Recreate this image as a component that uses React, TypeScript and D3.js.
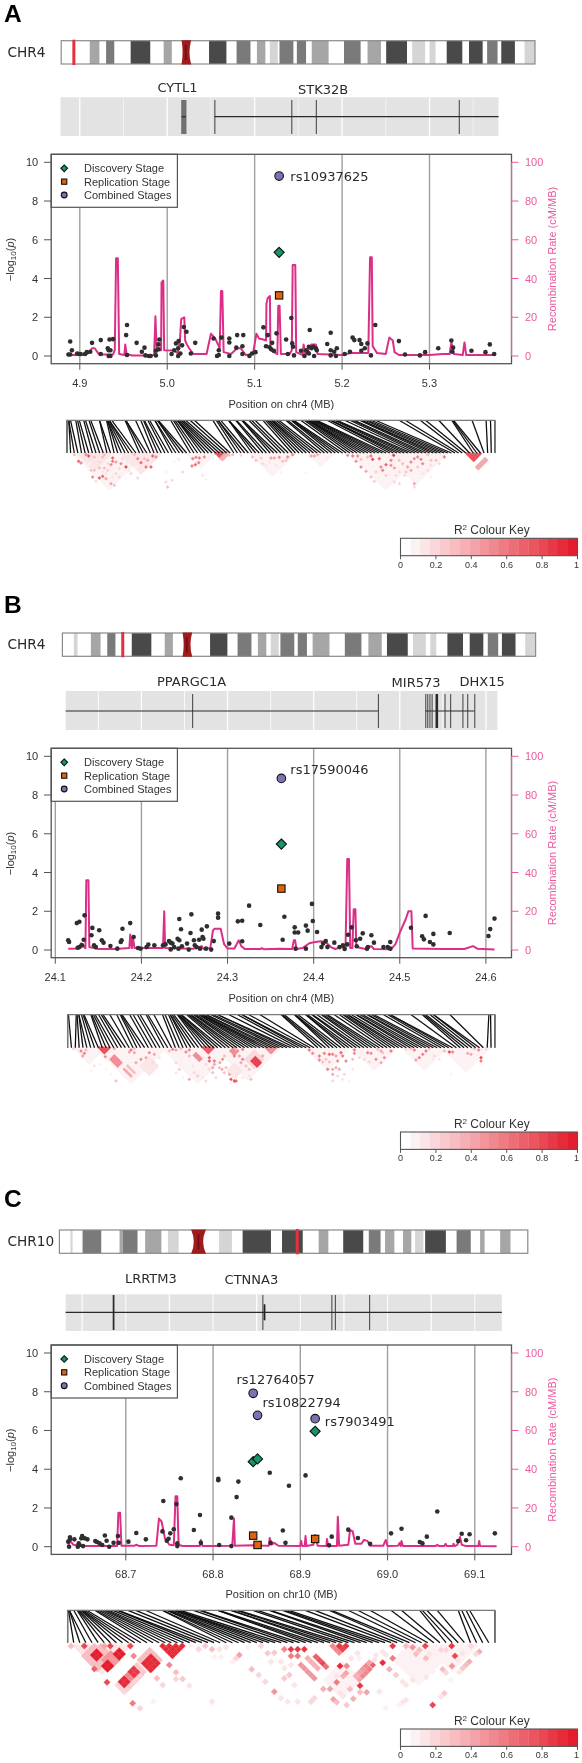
import React from "react";
import * as d3 from "d3";

type P = [number, number];
// [start Mb, end Mb, gpos stain]
type Band = [number, number, number];

const stainShades: Record<number, string> = { 25: "#d5d5d5", 50: "#a6a6a6", 75: "#7a7a7a", 100: "#4a4a4a" };

const bandsChr4A: Band[] = [[11.5,15.4,50],[18.1,21.4,75],[28,35.9,100],[41.3,44.6,50],[59.6,66.6,100],[70.7,76.3,75],[78.9,82.3,50],[84.1,87.3,25],[88,93.6,75],[95,98.7,75],[101,107.8,50],[114,120.7,75],[123.5,128.9,50],[131,139.4,100],[141.5,146.7,25],[148.5,150.9,25],[155.4,161.7,100],[164.4,169.9,100],[171.7,175.9,75],[177.4,182.9,100],[186.8,191,25]];
const bandsChr4B: Band[] = [[4.6,6.1,25],...bandsChr4A];
const bandsChr10: Band[] = [[3.2,3.8,25],[6.7,12.1,75],[17.4,18.3,50],[18.3,22.6,75],[24.8,29.5,50],[31.4,34.5,25],[46.2,49.9,25],[53,61.2,100],[64.4,70.4,100],[75,77.8,50],[82.1,87.9,100],[89.5,92.9,75],[94.2,96.9,50],[99.4,101.8,50],[102.9,105.3,25],[105.8,111.8,100],[114.9,119,75],[121.7,123,50],[127.5,130.5,50]];

const pointsA: P[] = [[4.887,.08],[4.889,.75],[4.891,.3],[4.889,.08],[4.897,.13],[4.899,.1],[4.901,.1],[4.906,.1],[4.908,.2],[4.912,.22],[4.914,.68],[4.924,.1],[4.924,.82],[4.932,.4],[4.933,.3],[4.934,.85],[4.938,.87],[4.933,0],[4.935,0],[4.935,.3],[4.954,1.6],[4.953,1.08],[4.954,.05],[4.965,.68],[4.971,.22],[4.974,.43],[4.975,.03],[4.979,0],[4.981,0],[4.987,.03],[4.987,.27],[4.991,.85],[4.99,.6],[4.99,.35],[5.005,.1],[5.008,.3],[5.01,.65],[5.013,.77],[5.0125,.4],[5.0125,0],[5.015,.13],[5.017,.55],[5.019,1.5],[5.022,1.25],[5.027,.13],[5.032,.68],[5.053,.9],[5.062,.95],[5.059,.3],[5.057,0],[5.059,.05],[5.071,.9],[5.071,.7],[5.071,0],[5.079,.43],[5.08,1.08],[5.087,1.08],[5.086,.5],[5.086,.1],[5.094,0],[5.097,.13],[5.101,.2],[5.11,1.48],[5.115,1.08],[5.113,.5],[5.117,.45],[5.12,.68],[5.119,.35],[5.122,.27],[5.125,1.17],[5.136,.85],[5.138,.1],[5.142,1.96],[5.143,.65],[5.144,.48],[5.145,.03],[5.153,.27],[5.157,0],[5.159,.3],[5.161,.17],[5.162,.48],[5.163,1.34],[5.165,.4],[5.162,.13],[5.167,.48],[5.168,0],[5.17,.4],[5.171,.3],[5.183,.62],[5.187,1.2],[5.187,.3],[5.187,.03],[5.191,.22],[5.193,0],[5.194,.4],[5.203,.1],[5.209,.22],[5.212,.95],[5.214,.82],[5.22,.82],[5.222,.62],[5.222,.27],[5.226,.4],[5.229,.65],[5.233,.03],[5.238,1.6],[5.265,.77],[5.272,.08],[5.289,.03],[5.295,.2],[5.31,.4],[5.325,.8],[5.327,.43],[5.326,.22],[5.348,.27],[5.364,.2],[5.369,.6],[5.374,.1]];
const recombA: P[] = [[4.887,.5],[4.905,.5],[4.91,1.5],[4.914,4],[4.917,4],[4.922,.8],[4.938,.8],[4.94,3],[4.9415,50.5],[4.9435,50.5],[4.945,1],[4.951,.5],[4.952,6],[4.9535,1],[4.96,.3],[4.98,.3],[4.985,.5],[4.9865,20.5],[4.988,3],[4.993,3],[4.9935,38],[4.9955,39],[4.9965,3],[5.008,2.8],[5.012,1.5],[5.0145,8],[5.016,19],[5.0195,20],[5.0205,8],[5.0225,6],[5.025,4],[5.03,1],[5.045,1],[5.05,11.5],[5.055,9],[5.058,6],[5.06,4],[5.0615,33.5],[5.063,33.5],[5.0645,2],[5.073,1],[5.08,4],[5.084,4],[5.09,.5],[5.098,1],[5.102,11.5],[5.105,9],[5.11,8.5],[5.113,8],[5.1135,27],[5.115,30],[5.1175,31],[5.118,3],[5.122,2],[5.126,1],[5.127,26],[5.1285,26],[5.13,1],[5.14,1],[5.1425,3],[5.1435,47],[5.1465,47],[5.1475,2],[5.155,.5],[5.156,6],[5.158,.8],[5.165,6],[5.17,6],[5.172,1],[5.2,.5],[5.21,1.5],[5.23,1.5],[5.232,51],[5.234,51],[5.235,5],[5.24,1.5],[5.25,1],[5.254,9.5],[5.258,8],[5.26,2],[5.265,.5],[5.3,.5],[5.315,1],[5.323,1],[5.325,7],[5.328,1],[5.338,.5],[5.34,7],[5.342,.5],[5.37,.5],[5.375,.5]];

const pointsB: P[] = [[24.115,.5],[24.116,.41],[24.125,1.39],[24.128,1.46],[24.134,1.79],[24.133,.53],[24.128,.15],[24.131,.24],[24.126,.12],[24.143,1.14],[24.142,.76],[24.145,.24],[24.147,.15],[24.151,1.02],[24.154,.5],[24.156,.38],[24.164,.21],[24.172,.07],[24.176,.41],[24.177,.5],[24.178,1.1],[24.187,1.39],[24.191,.67],[24.196,.1],[24.199,.07],[24.206,.15],[24.208,.28],[24.215,.24],[24.225,.24],[24.228,.29],[24.232,.46],[24.234,.38],[24.236,.33],[24.234,.03],[24.238,.15],[24.242,.58],[24.244,1.6],[24.246,1.07],[24.244,.5],[24.243,.07],[24.247,.19],[24.253,.33],[24.255,.02],[24.257,.88],[24.258,1.84],[24.261,.5],[24.262,.24],[24.264,.15],[24.267,.53],[24.268,.07],[24.27,1.05],[24.271,.67],[24.272,.58],[24.276,1.22],[24.275,.07],[24.281,.02],[24.284,.46],[24.289,1.88],[24.289,1.67],[24.302,.33],[24.312,1.48],[24.317,1.51],[24.317,.45],[24.325,2.29],[24.338,1.29],[24.364,.53],[24.366,1.72],[24.378,1.17],[24.378,.9],[24.382,.9],[24.379,.07],[24.391,.07],[24.391,1.26],[24.393,1],[24.398,2.38],[24.399,1.5],[24.404,.93],[24.409,.15],[24.411,.33],[24.414,.46],[24.416,.15],[24.424,.38],[24.43,.15],[24.434,.24],[24.436,.05],[24.439,.29],[24.44,.79],[24.444,1.17],[24.449,.5],[24.45,.19],[24.454,.58],[24.457,.86],[24.462,.07],[24.463,.15],[24.467,.76],[24.47,.38],[24.481,.15],[24.486,.15],[24.489,.41],[24.489,.07],[24.513,1.15],[24.526,.71],[24.528,.55],[24.53,1.76],[24.535,.41],[24.539,.29],[24.539,.83],[24.558,.88],[24.603,.72],[24.605,1.08],[24.61,1.62]];
const recombB: P[] = [[24.115,.7],[24.126,.8],[24.13,3.5],[24.135,.9],[24.136,36],[24.1385,36],[24.1395,1.5],[24.15,.5],[24.17,.5],[24.178,.8],[24.186,1],[24.187,8],[24.189,1],[24.19,7],[24.192,1],[24.21,1],[24.225,1],[24.2265,20],[24.2275,1],[24.235,.9],[24.26,.6],[24.27,2],[24.272,.5],[24.28,1],[24.283,10],[24.285,11],[24.292,11],[24.296,3],[24.3,.8],[24.308,.8],[24.313,5],[24.316,2],[24.32,.5],[24.338,.5],[24.34,1],[24.342,.4],[24.36,.6],[24.375,.5],[24.377,5],[24.3785,5],[24.38,.5],[24.387,1],[24.395,3.5],[24.4,4],[24.408,4.5],[24.414,4],[24.42,1.5],[24.425,.5],[24.432,1.5],[24.437,1],[24.439,47],[24.441,47],[24.4425,1],[24.445,1],[24.4465,21],[24.4485,21],[24.4495,1.5],[24.46,.5],[24.467,2],[24.47,.5],[24.49,.4],[24.495,3],[24.5,9],[24.507,16],[24.51,20],[24.5135,20],[24.515,.8],[24.55,.5],[24.575,.5],[24.585,2],[24.59,.7],[24.61,.3]];

const pointsC: P[] = [[68.634,.26],[68.636,.48],[68.635,0],[68.636,.38],[68.641,.38],[68.646,.17],[68.645,0],[68.647,.09],[68.65,.55],[68.649,.43],[68.651,.03],[68.653,.43],[68.656,.38],[68.665,.29],[68.667,.24],[68.67,.17],[68.673,.09],[68.676,.58],[68.678,.31],[68.681,0],[68.686,.2],[68.691,.55],[68.692,.2],[68.703,.26],[68.712,.71],[68.723,.38],[68.742,.79],[68.743,2.36],[68.747,.31],[68.749,.41],[68.751,.69],[68.755,.9],[68.758,2.2],[68.759,.17],[68.759,.03],[68.763,3.53],[68.778,.86],[68.785,1.64],[68.786,.2],[68.806,3.51],[68.806,3.43],[68.807,.09],[68.821,1.5],[68.821,.03],[68.827,2.56],[68.829,3.36],[68.865,3.82],[68.866,.2],[68.88,.84],[68.883,.2],[68.887,3.15],[68.906,3.68],[68.933,.07],[68.936,.52],[68.955,.88],[68.966,.45],[68.98,.15],[69.004,.69],[69.016,.93],[69.037,.24],[69.04,.17],[69.045,.52],[69.057,1.82],[69.081,.29],[69.085,.67],[69.09,.33],[69.094,.64],[69.123,.69]];
const recombC: P[] = [[68.634,.3],[68.636,3],[68.64,1],[68.65,.4],[68.69,.4],[68.6915,17.5],[68.6935,17.5],[68.695,.5],[68.71,.5],[68.712,1],[68.715,.4],[68.735,.5],[68.738,14.5],[68.741,13],[68.745,4],[68.75,1],[68.755,.8],[68.757,26],[68.759,26],[68.7605,1],[68.765,.4],[68.785,.4],[68.786,3.5],[68.788,.4],[68.8,.4],[68.822,.5],[68.824,14.5],[68.825,.5],[68.845,.8],[68.85,.6],[68.864,.5],[68.865,4.5],[68.867,1],[68.87,2],[68.875,.5],[68.9,.4],[68.901,3],[68.902,.4],[68.905,.4],[68.906,5.5],[68.907,.4],[68.915,1],[68.917,6],[68.92,.5],[68.93,.4],[68.9305,4],[68.932,.4],[68.942,.4],[68.943,15.5],[68.9445,.5],[68.955,1],[68.957,8.5],[68.96,8],[68.963,1.5],[68.97,1.5],[68.973,3.5],[68.977,3],[68.98,.5],[68.995,.5],[68.998,3.5],[69,.4],[69.012,.5],[69.014,2],[69.015,.4],[69.016,3],[69.0175,.4],[69.035,.3],[69.055,.3],[69.057,1],[69.059,.3],[69.065,.3],[69.0665,1.5],[69.068,.3],[69.075,.3],[69.0755,1.5],[69.077,.3],[69.08,1],[69.083,5],[69.085,1],[69.09,.3],[69.104,.3],[69.105,3],[69.106,.3],[69.125,.2]];

// position Mb, discovery, replication, combined
const leadA: [number, number, number, number][] = [[5.128,5.35,3.13,9.29]];
const leadB: [number, number, number, number][] = [[24.3625,5.47,3.17,8.86]];
const leadC: [number, number, number, number][] = [[68.846,4.39,.57,7.92],[68.851,4.53,.09,6.78],[68.917,5.96,.4,6.61]];

// gene models: [exon start, exon end] in Mb, gene body spans
const genesA = { bodies: [[5.054,5.379],[5.0165,5.0215]], exons: [[5.054,5.0545],[5.142,5.1425],[5.170,5.1705],[5.3335,5.334]], wide: [] as number[][], blurred: [[5.016,5.022]] };
const genesB = { bodies: [[24.112,24.4746],[24.5297,24.5866]], exons: [[24.259,24.2594],[24.4746,24.475],[24.5297,24.5305],[24.532,24.533],[24.5345,24.5355],[24.537,24.5378],[24.5415,24.5445],[24.552,24.553],[24.5586,24.5596],[24.5728,24.5735],[24.5784,24.579],[24.5866,24.5872]], wide: [] as number[][], blurred: [] as number[][] };
const genesC = { bodies: [[68.631,69.131]], exons: [[68.685,68.687],[68.8566,68.857],[68.9357,68.936],[68.9396,68.9405],[68.979,68.9794]], wide: [[68.858,68.860]], blurred: [] as number[][] };

type Cell = [number, number, number];
type Block = [number, number, number, number, number];

const ldBlocksA: Block[] = [[25,5,22,22,.07],[40,8,10,10,.12],[170,8,12,12,.12],[365,5,9,9,.07],[555,5,14,14,.07],[730,5,8,8,.06],[855,5,22,22,.1],[960,5,19,19,.1],[450,3,4,4,.8],[465,18,4,2,.35],[1203,5,5,5,.8],[1232,45,6,2,.4]];
const ldCellsA: Cell[] = [[25,8,.3],[38,28,.7],[45,33,.5],[68,12,.75],[60,8,.5],[85,15,.3],[110,15,.3],[115,8,.3],[140,18,.7],[140,28,.6],[135,38,.5],[150,30,.4],[165,35,.5],[180,45,.8],[170,20,.2],[205,8,.3],[215,20,.5],[225,32,.7],[240,45,.6],[255,45,.7],[260,12,.7],[270,15,.5],[245,25,.4],[235,20,.3],[75,55,.3],[85,55,.3],[100,48,.3],[115,48,.3],[125,55,.25],[80,75,.5],[100,78,.7],[110,73,.7],[120,80,.4],[135,95,.4],[145,100,.3],[90,88,.2],[150,65,.2],[160,75,.2],[195,65,.2],[215,78,.2],[125,35,.2],[100,30,.2],[160,50,.2],[190,55,.15],[180,80,.1],[50,15,.15],[95,40,.12],[120,65,.12],[140,75,.12],[70,35,.1],[110,60,.12],[185,30,.15],[200,35,.12],[210,45,.1],[300,90,.2],[318,85,.2],[305,105,.3],[350,60,.2],[338,22,.15],[325,30,.1],[410,70,.12],[420,82,.1],[300,60,.06],[380,20,.6],[390,16,.6],[400,18,.6],[415,15,.5],[378,42,.6],[388,38,.7],[398,32,.6],[490,10,.3],[500,8,.3],[525,10,.2],[560,15,.3],[570,25,.3],[585,18,.25],[590,35,.2],[600,40,.15],[615,18,.4],[625,18,.4],[640,16,.5],[650,28,.3],[665,15,.5],[680,8,.5],[660,25,.3],[610,30,.15],[630,40,.15],[620,55,.1],[640,45,.1],[600,50,.1],[720,62,.1],[645,62,.06],[735,12,.4],[745,12,.4],[755,8,.35],[785,18,.15],[795,12,.1],[845,10,.5],[860,12,.6],[875,12,.5],[870,28,.5],[885,22,.3],[885,45,.5],[900,58,.4],[915,75,.3],[925,88,.25],[905,15,.3],[920,22,.8],[915,12,.6],[940,20,.7],[983,10,.85],[975,25,.6],[960,38,.7],[945,45,.5],[950,55,.6],[975,40,.5],[985,48,.4],[1010,35,.3],[1025,45,.4],[1035,55,.4],[1000,60,.2],[1015,70,.2],[1045,20,.5],[1055,15,.5],[1065,22,.6],[1070,35,.5],[1085,8,.3],[1095,25,.3],[1095,40,.2],[1135,15,.6],[1110,25,.3],[1120,35,.2],[1085,55,.2],[1070,65,.15],[1045,95,.4],[1000,95,.2],[985,90,.2],[1045,105,.2],[1095,75,.1],[1035,30,.5],[930,60,.25],[960,70,.25],[1000,25,.3],[990,70,.2],[1020,60,.25],[1055,45,.25],[1270,8,.1]];

const ldBlocksB: Block[] = [[25,5,10,10,.07],[90,5,22,22,.09],[290,5,22,22,.09],[450,5,20,20,.09],[720,5,14,14,.08],[860,5,14,14,.08],[1010,5,14,14,.07],[1130,5,15,15,.07],[100,5,4,4,.8],[135,40,3,5,.55],[175,70,1,5,.4],[185,60,1,5,.3],[225,60,6,6,.14],[385,28,2,4,.55],[412,5,4,4,.75],[495,15,3,3,.5],[540,40,6,6,.2],[558,45,3,4,.85],[600,5,4,4,.55],[485,75,5,5,.14]];
const ldCellsB: Cell[] = [[22,8,.2],[45,15,.5],[55,22,.6],[50,30,.4],[60,12,.3],[145,8,.4],[118,32,.5],[150,105,.3],[85,60,.15],[100,55,.1],[75,75,.1],[120,70,.1],[135,85,.1],[195,12,.6],[205,20,.4],[190,18,.4],[205,8,.3],[225,40,.5],[210,50,.4],[240,35,.4],[250,20,.5],[265,25,.4],[280,35,.15],[270,60,.15],[260,50,.2],[320,10,.6],[310,15,.3],[330,12,.4],[345,8,.3],[360,18,.5],[370,12,.5],[370,30,.3],[330,50,.2],[340,70,.25],[370,100,.4],[330,80,.15],[395,90,.25],[385,80,.2],[410,95,.15],[420,105,.2],[350,95,.1],[380,60,.15],[430,45,.7],[445,45,.6],[430,35,.7],[445,55,.4],[440,65,.4],[420,55,.2],[470,40,.5],[462,50,.4],[475,30,.3],[460,65,.3],[440,80,.3],[430,70,.2],[468,70,.4],[475,80,.3],[450,95,.2],[530,10,.6],[505,30,.6],[520,30,.4],[510,8,.3],[530,40,.6],[525,50,.4],[590,30,.4],[495,100,.8],[505,105,.8],[510,105,.7],[490,85,.4],[480,65,.3],[540,60,.3],[550,70,.3],[530,95,.15],[550,90,.15],[555,100,.3],[510,85,.15],[730,12,.6],[740,22,.5],[760,30,.6],[760,42,.5],[775,22,.6],[790,25,.7],[800,25,.6],[825,20,.7],[830,30,.6],[810,30,.4],[780,40,.3],[770,48,.3],[790,48,.3],[815,45,.5],[840,45,.5],[785,70,.6],[800,70,.4],[810,65,.4],[820,70,.4],[860,40,.3],[865,12,.6],[865,22,.5],[800,85,.4],[815,90,.2],[835,85,.2],[905,20,.6],[915,22,.5],[930,40,.5],[945,15,.4],[935,10,.3],[950,20,.3],[955,35,.5],[945,50,.4],[975,15,.6],[895,40,.2],[910,48,.2],[880,35,.2],[860,70,.15],[800,105,.2],[830,100,.15],[850,105,.08],[1045,12,.6],[1035,8,.3],[1020,10,.2],[1080,15,.6],[1070,25,.6],[1060,35,.6],[1050,42,.4],[1090,8,.3],[1105,30,.2],[1100,40,.15],[1135,15,.3],[1150,18,.8],[1160,18,.5],[1205,22,.4],[1215,25,.4],[1238,12,.5],[1225,8,.3],[1245,35,.8],[1245,45,.6],[1155,85,.1],[1120,40,.12],[1260,10,.2]];

const ldBlocksC: Block[] = [[30,18,9,9,.12],[780,120,6,6,.08],[990,60,8,8,.07],[1090,18,8,8,.08],[55,48,5,5,.32],[115,60,3,3,.45],[82,45,2,2,.95],[115,78,2,2,.95],[150,42,2,2,.95],[222,60,4,4,.3],[235,70,3,3,.9],[155,135,1,3,.2],[165,125,2,3,.9],[184.5,105.5,1,3,.5],[194,95.5,2,3,.85],[213,76,1,3,.25],[175,155,6,1,.2],[290,18,4,4,.9],[800,18,3,3,.5]];
const ldCellsC: Cell[] = [[15,18,.3],[55,18,.8],[133,18,.8],[193,18,.8],[115,18,.4],[203,48,.5],[85,87,.7],[123,127,.8],[200,190,.6],[222,205,.2],[310,75,.5],[330,97,.3],[350,117,.25],[330,117,.2],[370,137,.12],[290,135,.2],[273,115,.3],[262,185,.1],[438,185,.12],[375,18,.1],[398,28,.2],[418,18,.25],[438,28,.3],[460,28,.12],[480,22,.15],[445,50,.1],[465,50,.1],[500,65,.08],[545,22,.08],[520,45,.4],[510,55,.2],[585,18,.2],[605,40,.25],[625,38,.25],[615,65,.15],[645,65,.15],[557,88,.3],[578,105,.2],[598,125,.2],[625,155,.45],[645,175,.15],[665,185,.12],[695,185,.15],[655,115,.25],[670,105,.25],[685,135,.15],[655,85,.15],[675,75,.12],[655,28,.5],[675,28,.85],[695,28,.85],[715,28,.85],[675,48,.6],[695,48,.6],[745,50,.1],[735,185,.2],[745,175,.2],[820,18,.85],[840,18,.85],[830,28,.8],[875,40,.15],[855,55,.15],[880,55,.1],[750,50,.7],[760,60,.75],[770,70,.8],[780,80,.65],[725,55,.35],[735,65,.35],[745,75,.35],[755,85,.35],[705,75,.45],[715,85,.45],[725,95,.45],[735,105,.45],[745,115,.45],[822,78,.9],[842,78,.5],[840,100,.4],[812,127,.6],[792,147,.4],[772,147,.35],[852,147,.3],[832,108,.35],[812,108,.15],[822,158,.15],[802,178,.4],[812,187,.3],[862,176,.35],[842,195,.25],[832,168,.15],[920,75,.7],[910,88,.6],[900,98,.55],[890,108,.5],[880,118,.4],[900,78,.5],[890,88,.45],[880,98,.4],[870,108,.35],[910,68,.4],[925,60,.15],[882,137,.85],[902,157,.4],[882,157,.3],[940,155,.15],[950,68,.9],[980,55,.6],[970,88,.35],[990,105,.25],[980,18,.85],[950,35,.15],[930,45,.12],[960,45,.12],[1010,125,.15],[1020,135,.12],[1040,120,.15],[1020,180,.15],[1010,187,.15],[1000,195,.1],[960,205,.08],[1020,18,.3],[1040,22,.45],[1060,30,.3],[1050,42,.3],[1078,18,.8],[1090,42,.15],[1080,55,.3],[1125,30,.2],[1140,30,.2],[1157,18,.85],[1167,48,.8],[1158,78,.45],[1130,88,.3],[1140,98,.2],[1100,195,.8],[1135,160,.25],[1125,170,.15],[1080,112,.15],[1100,95,.1],[1155,120,.1],[1190,40,.15],[1175,60,.12],[1210,65,.35],[1200,75,.3],[1190,85,.25],[1180,97,.15],[1240,35,.35],[1230,42,.2],[1215,18,.2]];

const keyTicks = [0, 0.2, 0.4, 0.6, 0.8, 1];
const logpTicks = [0, 2, 4, 6, 8, 10];
const rateTicks = [0, 20, 40, 60, 80, 100];
const legendLabels = ["Discovery Stage", "Replication Stage", "Combined Stages"];

const SANS = "'Liberation Sans', Arial, sans-serif";
const DEJA = "'DejaVu Sans', sans-serif";
const GREEN = "#13936f", ORANGE = "#df6410", PURPLE = "#7a72b5";
const PINK = "#dd2f87", PINKAX = "#ea5a9f", INK = "#333333";

const keyLevels = 18;
const ldFill = (r: number) => {
  const k = Math.min(keyLevels - 1, Math.floor(r * keyLevels));
  return d3.interpolateRgb("#ffffff", "#e31f2d")(k / (keyLevels - 1));
};

function Ideogram({ x0, x1, y0, y1, len, bands, cen, mark, label }: any) {
  const x = d3.scaleLinear().domain([0, len]).range([x0, x1]);
  const [a, b] = [x(cen[0]), x(cen[1])];
  const m = (y0 + y1) / 2, c = x(cen[2]);
  return (
    <g>
      <text x={7.4} y={m + 4.5} fontFamily={DEJA} fontSize={13.7} fill="#2a2a2a">{label}</text>
      <rect x={x0} y={y0} width={x1 - x0} height={y1 - y0} fill="#fff" />
      {bands.map((d: Band, i: number) => (
        <rect key={i} x={x(d[0])} y={y0} width={x(d[1]) - x(d[0])} height={y1 - y0} fill={stainShades[d[2]]} />
      ))}
      <rect x={x0} y={y0} width={x1 - x0} height={y1 - y0} fill="none" stroke="#8a8a8a" strokeWidth={1.2} />
      <path d={`M${a},${y0 - 0.5} L${b},${y0 - 0.5} Q${c + 2},${m} ${b},${y1 + 0.5} L${a},${y1 + 0.5} Q${c - 2},${m} ${a},${y0 - 0.5} Z`} fill="#a01a1d" />
      <line x1={c} x2={c} y1={y0 + 4} y2={y1 - 4} stroke="#6f1013" strokeWidth={1.8} />
      <rect x={x(mark) - 1.5} y={y0 - 1} width={3} height={y1 - y0 + 2} fill="#e23241" />
    </g>
  );
}

function GeneTrack({ x, left, right, y0, y1, genes, gridFrom, gridTo, mid, tall, labels, soft }: any) {
  const grid = d3.range(Math.round((gridTo - gridFrom) / 0.05) + 1).map((i) => gridFrom + i * 0.05);
  return (
    <g>
      <rect x={left} y={y0} width={right - left} height={y1 - y0} fill="#e3e3e3" />
      {grid.map((g: number, i: number) => (
        <line key={i} x1={x(g)} x2={x(g)} y1={y0} y2={y1} stroke="#ffffff" strokeWidth={i % 2 === 0 ? 1.3 : 1} opacity={i % 2 === 0 ? 0.95 : soft} />
      ))}
      {genes.blurred.map((e: number[], i: number) => (
        <rect key={i} x={x(e[0])} y={tall[0]} width={x(e[1]) - x(e[0])} height={tall[1] - tall[0]} fill="#6f6f6f" />
      ))}
      {genes.bodies.map((b: number[], i: number) => (
        <line key={i} x1={x(b[0])} x2={x(b[1])} y1={mid} y2={mid} stroke="#2a2a2a" strokeWidth={1.2} />
      ))}
      {genes.exons.map((e: number[], i: number) => (
        <rect key={i} x={x(e[0])} y={tall[0]} width={Math.max(0.9, x(e[1]) - x(e[0]))} height={tall[1] - tall[0]} fill="#2c2c2c" />
      ))}
      {genes.wide.map((e: number[], i: number) => (
        <rect key={i} x={x(e[0])} y={mid - 8} width={x(e[1]) - x(e[0])} height={16} fill="#222" />
      ))}
      {labels.map((l: any, i: number) => (
        <text key={i} x={l[1]} y={l[2]} fontFamily={DEJA} fontSize={13} fill="#2a2a2a">{l[0]}</text>
      ))}
    </g>
  );
}

function Marker({ type, x, y, s, fill }: any) {
  if (type === 0) return <path d={`M${x},${y - s * 1.15} L${x + s * 1.15},${y} L${x},${y + s * 1.15} L${x - s * 1.15},${y} Z`} fill={fill} stroke="#111" strokeWidth={1.1} />;
  if (type === 1) return <rect x={x - s * 0.9} y={y - s * 0.9} width={s * 1.8} height={s * 1.8} fill={fill} stroke="#111" strokeWidth={1.1} />;
  return <circle cx={x} cy={y} r={s} fill={fill} stroke="#111" strokeWidth={1.1} />;
}

function Assoc({ off, x, points, recomb, lead, ticks, chr, snps }: any) {
  const L = 51.2, R = 511.5, T = 154.3 + off, B = 363.7 + off;
  const y = d3.scaleLinear().domain([0, 10]).range([356 + off, 162.3 + off]);
  const yr = d3.scaleLinear().domain([0, 100]).range([356 + off, 162.3 + off]);
  const line = d3.line<P>().x((d) => x(d[0])).y((d) => yr(d[1]));
  const legTop = T, legBot = 207.3 + off;
  return (
    <g fontFamily={SANS} fontSize={11} fill={INK}>
      <rect x={L} y={T} width={R - L} height={B - T} fill="#fff" />
      {ticks.map((t: number) => <line key={t} x1={x(t)} x2={x(t)} y1={T} y2={B} stroke="#a0a0a0" strokeWidth={1.4} />)}
      <rect x={L} y={legTop} width={177.4 - L} height={legBot - legTop} fill="#fff" stroke="#555" strokeWidth={1.2} />
      <path d={line(recomb) as string} fill="none" stroke={PINK} strokeWidth={2} strokeLinejoin="round" />
      {points.map((p: P, i: number) => <circle key={i} cx={x(p[0])} cy={y(p[1])} r={2.3} fill="#2e2e2e" />)}
      {lead.map((l: number[], i: number) => (
        <g key={i}>
          <Marker type={0} x={x(l[0])} y={y(l[1])} s={4.4} fill={GREEN} />
          <Marker type={1} x={x(l[0])} y={y(l[2])} s={4.1} fill={ORANGE} />
          <Marker type={2} x={x(l[0])} y={y(l[3])} s={4.3} fill={PURPLE} />
        </g>
      ))}
      <rect x={L} y={T} width={R - L} height={B - T} fill="none" stroke="#555" strokeWidth={1.3} />
      {legendLabels.map((t, i) => (
        <g key={t}>
          <Marker type={i} x={64.2} y={168.3 + off + i * 13.35} s={2.9} fill={[GREEN, ORANGE, PURPLE][i]} />
          <text x={84} y={172.2 + off + i * 13.35}>{t}</text>
        </g>
      ))}
      {logpTicks.map((t) => (
        <g key={t}>
          <line x1={44} x2={L} y1={y(t)} y2={y(t)} stroke="#555" />
          <text x={38.2} y={y(t) + 4} textAnchor="end">{t}</text>
        </g>
      ))}
      {ticks.map((t: number) => (
        <g key={t}>
          <line x1={x(t)} x2={x(t)} y1={B} y2={B + 6} stroke="#555" />
          <text x={x(t)} y={387.3 + off} textAnchor="middle">{t.toFixed(1)}</text>
        </g>
      ))}
      <line x1={R} x2={R} y1={yr(0)} y2={yr(100)} stroke={PINKAX} strokeWidth={1.2} />
      {rateTicks.map((t) => (
        <g key={t}>
          <line x1={R} x2={518.5} y1={yr(t)} y2={yr(t)} stroke={PINKAX} />
          <text x={525} y={yr(t) + 4} fill={PINKAX}>{t}</text>
        </g>
      ))}
      <text x={281.4} y={407.7 + off} textAnchor="middle">{`Position on ${chr} (MB)`}</text>
      <text transform={`translate(14,${259.5 + off}) rotate(-90)`} textAnchor="middle">
        −log<tspan fontSize={8} dy={2}>10</tspan><tspan dy={-2}>(</tspan><tspan fontStyle="italic">p</tspan>)
      </text>
      <text transform={`translate(556,${259 + off}) rotate(-90)`} textAnchor="middle" fill={PINKAX}>Recombination Rate (cM/MB)</text>
      {snps.map((s: any, i: number) => (
        <text key={i} x={s[1]} y={s[2] + off} fontFamily={DEJA} fontSize={13} fill="#2a2a2a">{s[0]}</text>
      ))}
    </g>
  );
}

function LDPanel({ x0, x1, yTop, yBot, positions, cells, blocks, minDepth, halfCol, originY }: any) {
  const sorted = [...positions].sort(d3.ascending);
  const top = d3.scaleLinear().domain(d3.extent(sorted) as [number, number]).range([x0, x1]);
  const bot = d3.scaleLinear().domain([0, sorted.length - 1]).range([x0, x1]);
  const cx = d3.scaleLinear().domain([0, 1290]).range([66, 496]);
  const cy = d3.scaleLinear().domain([0, 300]).range([originY, originY + 100]);
  const hw = cx(halfCol) - cx(0), hh = cy(halfCol) - cy(0);
  const all: Cell[] = [];
  blocks.forEach((b: Block) => {
    for (let a = 0; a < b[2]; a++) for (let c = 0; c < b[3]; c++) {
      const X = b[0] + (a + c) * halfCol, Y = b[1] + (c - a) * halfCol;
      if (Y >= minDepth - 0.5) all.push([X, Y, b[4]]);
    }
  });
  cells.forEach((c: Cell) => all.push(c));
  return (
    <g>
      {all.map((c, i) => {
        const X = cx(c[0]), Y = cy(c[1]);
        return <path key={i} d={`M${X},${Y - hh} L${X + hw},${Y} L${X},${Y + hh} L${X - hw},${Y} Z`} fill={ldFill(c[2])} stroke={ldFill(c[2])} strokeWidth={0.3} />;
      })}
      {sorted.map((p: number, i: number) => (
        <line key={i} x1={top(p)} x2={bot(i)} y1={yTop} y2={yBot} stroke="#0a0a0a" strokeWidth={1.25} />
      ))}
      <path d={`M${x0},${yBot} L${x0},${yTop} L${x1},${yTop} L${x1},${yBot}`} fill="none" stroke="#7a7a7a" strokeWidth={1.3} />
    </g>
  );
}

function ColourKey({ off }: any) {
  const x = d3.scaleLinear().domain([0, 1]).range([400.5, 577.5]);
  const y0 = 538.3 + off, y1 = 555.7 + off;
  return (
    <g fontFamily={SANS} fill={INK}>
      {d3.range(keyLevels).map((k) => (
        <rect key={k} x={x(k / keyLevels)} y={y0} width={x(1 / keyLevels) - x(0) + 0.3} height={y1 - y0} fill={ldFill((k + 0.5) / keyLevels)} />
      ))}
      <rect x={400.5} y={y0} width={177} height={y1 - y0} fill="none" stroke="#555" strokeWidth={1.1} />
      {keyTicks.map((t) => (
        <g key={t}>
          <line x1={x(t)} x2={x(t)} y1={y1} y2={y1 + 3.5} stroke="#555" />
          <text x={t === 1 ? x(t) - 1 : x(t)} y={y1 + 12} textAnchor="middle" fontSize={9}>{t}</text>
        </g>
      ))}
      <text x={491.8} y={535 + off - 1} textAnchor="middle" fontSize={12}>R<tspan fontSize={8} dy={-4}>2</tspan><tspan dy={4}> Colour Key</tspan></text>
    </g>
  );
}

const Letter = ({ t, y }: any) => <text x={4} y={y} fontFamily={SANS} fontWeight="bold" fontSize={24.5} fill="#000">{t}</text>;

export default function App() {
  const xA = d3.scaleLinear().domain([4.9, 5.3]).range([79.8, 429.5]);
  const xB = d3.scaleLinear().domain([24.1, 24.6]).range([55.3, 485.9]);
  const xC = d3.scaleLinear().domain([68.7, 69.1]).range([125.8, 474.8]);
  const posA = [...pointsA.map((d) => d[0]), ...leadA.map((d) => d[0])];
  const posB = [...pointsB.map((d) => d[0]), ...leadB.map((d) => d[0])];
  const posC = [...pointsC.map((d) => d[0]), ...leadC.map((d) => d[0])];
  return (
    <svg width={582} height={1763} viewBox="0 0 582 1763" style={{ position: "absolute", left: 0, top: 0, display: "block", background: "#fff" }}>
      <defs>
        <filter id="soft" filterUnits="userSpaceOnUse" x={0} y={0} width={582} height={1763}>
          <feGaussianBlur stdDeviation={0.45} />
        </filter>
      </defs>
      <g filter="url(#soft)">
        <Letter t="A" y={21.7} />
        <Ideogram x0={61.2} x1={535} y0={40.7} y1={64} len={191} bands={bandsChr4A} cen={[48.5, 52.4, 50.2]} mark={5.1} label="CHR4" />
        <GeneTrack x={xA} left={60.5} right={498.5} y0={97.3} y1={136} genes={genesA} gridFrom={4.9} gridTo={5.35} mid={116.7} tall={[100, 134]} soft={0.5}
          labels={[["CYTL1", 157.4, 92.3], ["STK32B", 298, 93.7]]} />
        <Assoc off={0} x={xA} points={pointsA} recomb={recombA} lead={leadA} ticks={[4.9, 5, 5.1, 5.2, 5.3]} chr="chr4" snps={[["rs10937625", 290.3, 181]]} />
        <LDPanel x0={67} x1={494.9} yTop={420.3} yBot={453} positions={posA} cells={ldCellsA} blocks={ldBlocksA} minDepth={3} halfCol={5} originY={452} />
        <ColourKey off={0} />

        <Letter t="B" y={612.7} />
        <Ideogram x0={62.4} x1={535.6} y0={633} y1={656.3} len={191} bands={bandsChr4B} cen={[48.5, 52.4, 50.2]} mark={24.36} label="CHR4" />
        <GeneTrack x={xB} left={65.7} right={497.4} y0={691} y1={730} genes={genesB} gridFrom={24.1} gridTo={24.6} mid={711} tall={[694, 728]} soft={0.8}
          labels={[["PPARGC1A", 157, 686], ["MIR573", 391.6, 687], ["DHX15", 459.5, 685.7]]} />
        <Assoc off={594} x={xB} points={pointsB} recomb={recombB} lead={leadB} ticks={[24.1, 24.2, 24.3, 24.4, 24.5, 24.6]} chr="chr4" snps={[["rs17590046", 290.3, 180.3]]} />
        <LDPanel x0={67.6} x1={494.9} yTop={1014.7} yBot={1047.7} positions={posB} cells={ldCellsB} blocks={ldBlocksB} minDepth={3} halfCol={5} originY={1046} />
        <ColourKey off={593.7} />

        <Letter t="C" y={1207} />
        <Ideogram x0={59.4} x1={527.8} y0={1230} y1={1253.3} len={135.5} bands={bandsChr10} cen={[38.1, 42.4, 40.2]} mark={68.8} label="CHR10" />
        <GeneTrack x={xC} left={65.7} right={501.8} y0={1294.3} y1={1331} genes={genesC} gridFrom={68.65} gridTo={69.1} mid={1312.3} tall={[1295, 1330]} soft={0.95}
          labels={[["LRRTM3", 125, 1283], ["CTNNA3", 224.6, 1284.3]]} />
        <Assoc off={1190.7} x={xC} points={pointsC} recomb={recombC} lead={leadC} ticks={[68.7, 68.8, 68.9, 69, 69.1]} chr="chr10"
          snps={[["rs12764057", 236.5, 193.3], ["rs10822794", 262.4, 216.3], ["rs7903491", 324.8, 235.3]]} />
        <LDPanel x0={67.6} x1={494.9} yTop={1610.3} yBot={1642.7} positions={posC} cells={ldCellsC} blocks={ldBlocksC} minDepth={18} halfCol={9.75} originY={1640} />
        <ColourKey off={1190.7} />
      </g>
    </svg>
  );
}
